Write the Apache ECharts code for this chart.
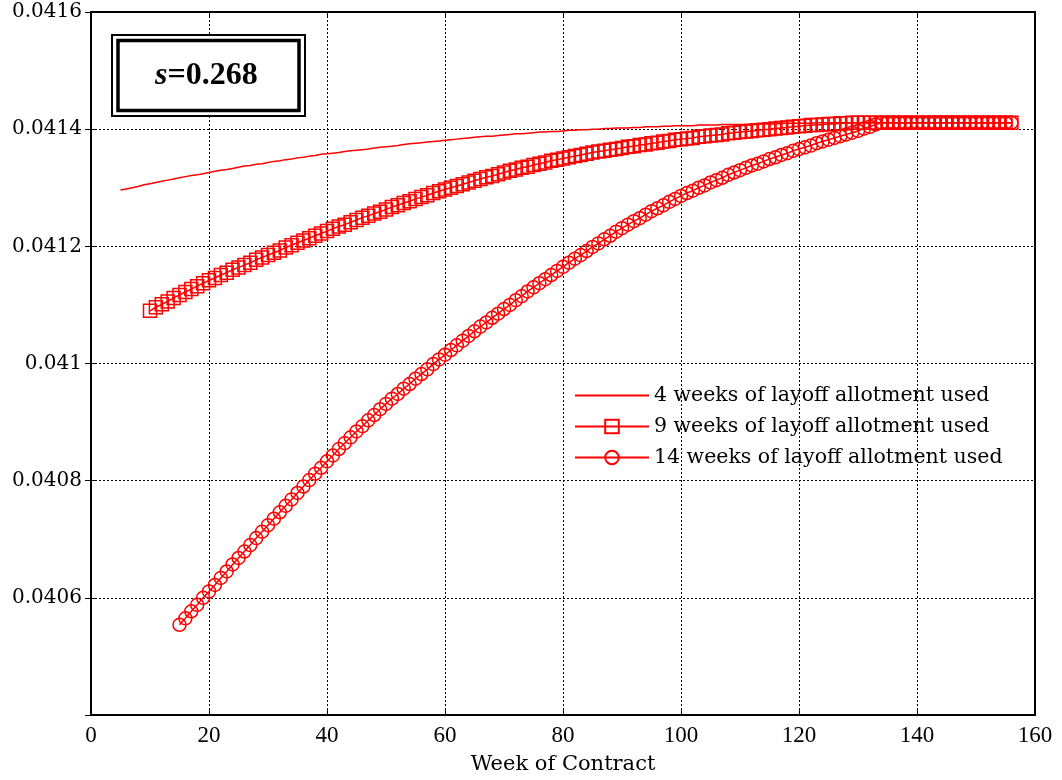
<!DOCTYPE html>
<html>
<head>
<meta charset="utf-8">
<script src="https://cdn.jsdelivr.net/npm/echarts@6/dist/echarts.min.js"></script>
<style>html,body{margin:0;padding:0;background:#fff;}#c{width:1062px;height:780px;}</style>
</head>
<body>
<div id="c"></div>
<script>
// x ticks / axis
const xTicks = [0, 20, 40, 60, 80, 100, 120, 140, 160];
const yTicks = [0.0404, 0.0406, 0.0408, 0.041, 0.0412, 0.0414, 0.0416];
const seriesNames = ['4 weeks of layoff allotment used', '9 weeks of layoff allotment used', '14 weeks of layoff allotment used'];

// first week of each series (weeks then run 1 per point)
const start4 = 5, start9 = 10, start14 = 15;

const y4 = [
0.041296,0.041298,0.041300,0.041302,0.041305,0.041307,
0.041309,0.041311,0.041313,0.041315,0.041317,
0.041319,0.041321,0.041322,0.041324,0.041326,
0.041328,0.041330,0.041331,0.041333,0.041335,
0.041337,0.041338,0.041340,0.041341,0.041343,
0.041345,0.041346,0.041348,0.041349,0.041351,
0.041352,0.041354,0.041355,0.041357,0.041358,
0.041359,0.041360,0.041362,0.041363,0.041364,
0.041365,0.041366,0.041368,0.041369,0.041370,
0.041371,0.041372,0.041374,0.041375,0.041376,
0.041377,0.041378,0.041379,0.041380,0.041381,
0.041382,0.041383,0.041384,0.041385,0.041386,
0.041387,0.041388,0.041388,0.041389,0.041390,
0.041391,0.041392,0.041392,0.041393,0.041394,
0.041395,0.041395,0.041396,0.041396,0.041397,
0.041398,0.041398,0.041399,0.041399,0.041400,
0.041400,0.041401,0.041401,0.041402,0.041402,
0.041402,0.041403,0.041403,0.041404,0.041404,
0.041404,0.041405,0.041405,0.041406,0.041406,
0.041406,0.041406,0.041407,0.041407,0.041407,
0.041407,0.041408,0.041408,0.041408,0.041408,
0.041408,0.041409,0.041409,0.041409,0.041409,
0.041409,0.041410,0.041410,0.041410,0.041410,
0.041410,0.041410,0.041411,0.041411,0.041411,
0.041411,0.041411,0.041411,0.041411,0.041411,0.041411,0.041411,0.041411,0.041411,0.041411,
0.041411,0.041411,0.041411,0.041411,0.041411,0.041411,0.041411,0.041411,0.041411,0.041411,
0.041411,0.041411,0.041411,0.041411,0.041411,0.041411,0.041411,0.041411,0.041411,0.041411,
0.041411
];

const y9 = [
0.041090,
0.041096,0.041101,0.041106,0.041112,0.041117,
0.041122,0.041127,0.041132,0.041137,0.041142,
0.041146,0.041151,0.041155,0.041160,0.041164,
0.041168,0.041172,0.041177,0.041181,0.041185,
0.041189,0.041193,0.041198,0.041202,0.041206,
0.041210,0.041214,0.041218,0.041222,0.041226,
0.041230,0.041234,0.041237,0.041241,0.041245,
0.041249,0.041252,0.041256,0.041259,0.041263,
0.041267,0.041270,0.041274,0.041277,0.041281,
0.041284,0.041287,0.041291,0.041294,0.041297,
0.041300,0.041303,0.041306,0.041309,0.041312,
0.041315,0.041318,0.041320,0.041323,0.041326,
0.041329,0.041331,0.041334,0.041336,0.041339,
0.041341,0.041343,0.041346,0.041348,0.041350,
0.041352,0.041354,0.041356,0.041358,0.041360,
0.041362,0.041363,0.041365,0.041366,0.041368,
0.041370,0.041371,0.041373,0.041374,0.041376,
0.041377,0.041379,0.041380,0.041382,0.041383,
0.041384,0.041385,0.041387,0.041388,0.041389,
0.041390,0.041391,0.041393,0.041394,0.041395,
0.041396,0.041397,0.041398,0.041399,0.041400,
0.041401,0.041402,0.041403,0.041404,0.041405,
0.041406,0.041407,0.041407,0.041408,0.041409,
0.041409,0.041410,0.041410,0.041411,0.041411,
0.041411,0.041411,0.041411,0.041411,0.041411,0.041411,0.041411,0.041411,0.041411,0.041411,
0.041411,0.041411,0.041411,0.041411,0.041411,0.041411,0.041411,0.041411,0.041411,0.041411,
0.041411,0.041411,0.041411,0.041411,0.041411,0.041411
];

const y14 = [
0.040554,
0.040565,0.040577,0.040588,0.040600,0.040611,
0.040622,0.040634,0.040645,0.040657,0.040668,
0.040679,0.040690,0.040702,0.040713,0.040724,
0.040735,0.040746,0.040757,0.040768,0.040779,
0.040790,0.040801,0.040812,0.040822,0.040833,
0.040843,0.040854,0.040864,0.040874,0.040884,
0.040893,0.040903,0.040912,0.040922,0.040931,
0.040940,0.040948,0.040957,0.040965,0.040974,
0.040982,0.040990,0.040999,0.041007,0.041015,
0.041023,0.041031,0.041039,0.041047,0.041055,
0.041063,0.041070,0.041078,0.041085,0.041093,
0.041100,0.041108,0.041115,0.041123,0.041130,
0.041137,0.041144,0.041151,0.041158,0.041165,
0.041172,0.041179,0.041185,0.041192,0.041199,
0.041205,0.041212,0.041218,0.041225,0.041231,
0.041237,0.041243,0.041248,0.041254,0.041260,
0.041265,0.041270,0.041276,0.041281,0.041286,
0.041291,0.041295,0.041300,0.041304,0.041309,
0.041313,0.041317,0.041322,0.041326,0.041330,
0.041334,0.041338,0.041341,0.041345,0.041349,
0.041352,0.041356,0.041359,0.041363,0.041366,
0.041369,0.041372,0.041376,0.041379,0.041382,
0.041385,0.041388,0.041391,0.041394,0.041397,
0.041401,0.041404,0.041408,0.041411,
0.041411,0.041411,0.041411,0.041411,0.041411,0.041411,0.041411,0.041411,0.041411,0.041411,
0.041411,0.041411,0.041411,0.041411,0.041411,0.041411,0.041411,0.041411,0.041411,0.041411,
0.041411,0.041411
];

const toPairs = (start, arr) => arr.map((v, i) => [start + i, v]);
const RED = '#ff0000';

const chart = echarts.init(document.getElementById('c'), null, {renderer: 'canvas'});

const yFmt = v => {
  if (Math.abs(v - yTicks[0]) < 1e-9) return '';
  return String(+v.toFixed(4));
};

const grid = {left: 91, right: 27, top: 12, bottom: 64, show: true, borderColor: '#000', borderWidth: 2, backgroundColor: '#fff'};

const option = {
  backgroundColor: '#fff',
  animation: false,
  grid: grid,
  xAxis: [{
    type: 'value', min: xTicks[0], max: xTicks[xTicks.length - 1], interval: 20,
    name: 'Week of Contract', nameLocation: 'middle', nameGap: 39,
    nameTextStyle: {fontFamily: 'DejaVu Serif', fontSize: 21, color: '#000'},
    axisLine: {show: true, lineStyle: {color: '#000', width: 2}},
    axisTick: {show: true, inside: true, length: 6, lineStyle: {color: '#000', width: 1}},
    axisLabel: {fontFamily: 'Liberation Serif', fontSize: 23, color: '#000', margin: 9},
    splitLine: {show: true, lineStyle: {color: '#000', type: [2, 2], width: 1}}
  }, {
    type: 'value', position: 'top', min: xTicks[0], max: xTicks[xTicks.length - 1], interval: 20,
    axisLine: {show: false}, axisLabel: {show: false}, splitLine: {show: false},
    axisTick: {show: true, inside: true, length: 6, lineStyle: {color: '#000', width: 1}}
  }],
  yAxis: [{
    type: 'value', min: yTicks[0], max: yTicks[yTicks.length - 1], interval: 0.0002,
    axisLine: {show: true, lineStyle: {color: '#000', width: 2}},
    axisTick: {show: true, inside: true, length: 6, lineStyle: {color: '#000', width: 1}},
    axisLabel: {fontFamily: 'DejaVu Serif', fontSize: 20, color: '#000', margin: 9, formatter: yFmt},
    splitLine: {show: true, lineStyle: {color: '#000', type: [2, 2], width: 1}}
  }, {
    type: 'value', position: 'right', min: yTicks[0], max: yTicks[yTicks.length - 1], interval: 0.0002,
    axisLine: {show: false}, axisLabel: {show: false}, splitLine: {show: false},
    axisTick: {show: true, inside: true, length: 6, lineStyle: {color: '#000', width: 1}}
  }],
  legend: {
    orient: 'vertical', left: 569, top: 380,
    itemWidth: 74, itemHeight: 17, itemGap: 10,
    textStyle: {fontFamily: 'DejaVu Serif', fontSize: 20.5, color: '#000', lineHeight: 20},
    data: [
      {name: seriesNames[0], itemStyle: {opacity: 0}},
      {name: seriesNames[1]},
      {name: seriesNames[2]}
    ]
  },
  series: [{
    name: seriesNames[0], type: 'line', data: toPairs(start4, y4),
    symbol: 'none', lineStyle: {color: RED, width: 1.5}, itemStyle: {color: RED}
  }, {
    name: seriesNames[1], type: 'line', data: toPairs(start9, y9),
    symbol: 'rect', symbolSize: 13, showAllSymbol: true,
    lineStyle: {color: RED, width: 1.5},
    itemStyle: {color: 'rgba(255,255,255,0)', borderColor: RED, borderWidth: 1.5}
  }, {
    name: seriesNames[2], type: 'line', data: toPairs(start14, y14),
    symbol: 'circle', symbolSize: 13, showAllSymbol: true,
    lineStyle: {color: RED, width: 1.5},
    itemStyle: {color: 'rgba(255,255,255,0)', borderColor: RED, borderWidth: 1.5}
  }],
  graphic: [
    {type: 'rect', shape: {x: 112, y: 35, width: 193, height: 81}, style: {fill: '#fff', stroke: '#000', lineWidth: 2}, z: 100},
    {type: 'rect', shape: {x: 118, y: 40.5, width: 181, height: 70}, style: {fill: '#fff', stroke: '#000', lineWidth: 3.5}, z: 101},
    {type: 'text', left: 155, top: 60, z: 102, style: {
      text: '{i|s}{b|=0.268}',
      rich: {
        i: {fontFamily: 'Liberation Serif', fontSize: 32, fontWeight: 'bold', fontStyle: 'italic', fill: '#000'},
        b: {fontFamily: 'Liberation Serif', fontSize: 32, fontWeight: 'bold', fill: '#000'}
      }
    }}
  ]
};
chart.setOption(option);
</script>
</body>
</html>
